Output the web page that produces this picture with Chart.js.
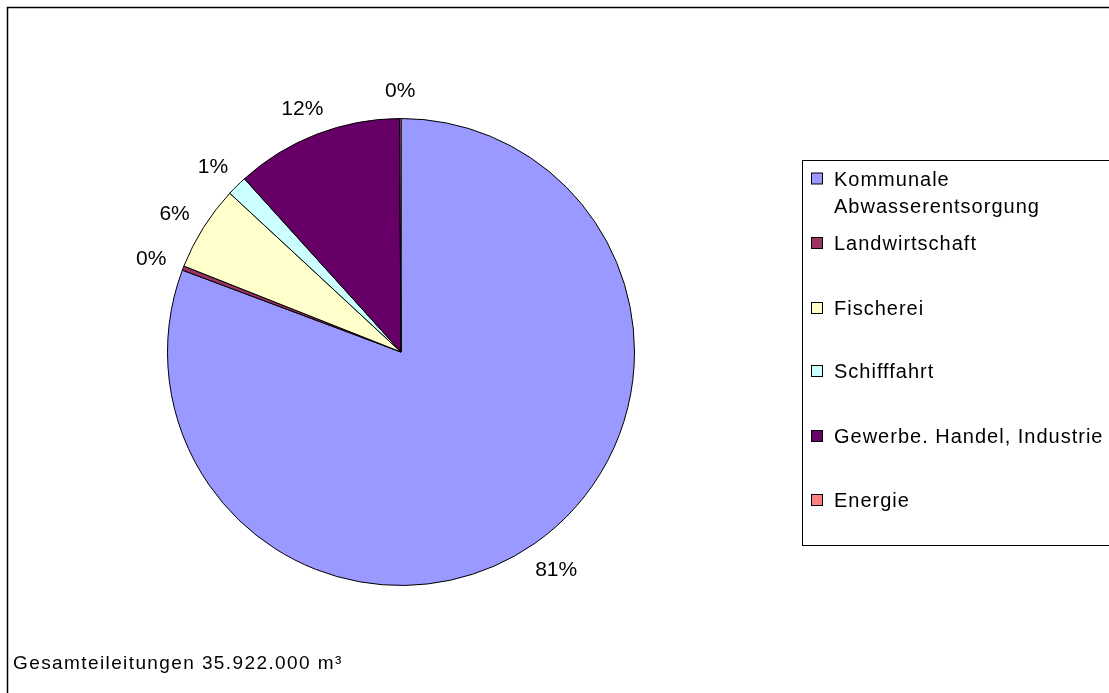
<!DOCTYPE html>
<html>
<head>
<meta charset="utf-8">
<script src="https://cdn.jsdelivr.net/npm/chart.js@4.4.1/dist/chart.umd.min.js"></script>
<style>
html,body{margin:0;padding:0;background:#fff;}
#wrap{position:relative;width:1109px;height:693px;}
</style>
</head>
<body>
<div id="wrap"><canvas id="c" width="1109" height="693"></canvas></div>
<script>
// Data (percent shares)
const categories = ["Kommunale Abwasserentsorgung", "Landwirtschaft", "Fischerei", "Schifffahrt", "Gewerbe. Handel, Industrie", "Energie"];
const legendLines = [["Kommunale", "Abwasserentsorgung"], ["Landwirtschaft"], ["Fischerei"], ["Schifffahrt"], ["Gewerbe. Handel, Industrie"], ["Energie"]];
const shares = [80.7, 0.3, 5.9, 1.4, 11.6, 0.1];
const colors = ["#9999FF", "#993366", "#FFFFCC", "#CCFFFF", "#660066", "#FF8080"];
const footnote = "Gesamteileitungen 35.922.000 m³";

const FONT = '"Liberation Sans", Arial, sans-serif';

const decor = {
  id: 'decor',
  afterDraw(chart) {
    const ctx = chart.ctx;
    ctx.save();
    // outer frame
    ctx.strokeStyle = '#000';
    ctx.lineWidth = 1.5;
    ctx.strokeRect(7.5, 7.5, 1300, 1000);

    // percent labels
    const meta = chart.getDatasetMeta(0);
    const total = shares.reduce((a, b) => a + b, 0);
    ctx.font = '21px ' + FONT;
    ctx.fillStyle = '#000';
    ctx.textAlign = 'center';
    ctx.textBaseline = 'middle';
    meta.data.forEach((arc, i) => {
      const p = arc.getProps(['x', 'y', 'startAngle', 'endAngle', 'outerRadius'], true);
      const mid = (p.startAngle + p.endAngle) / 2;
      const c = Math.cos(mid), s = Math.sin(mid);
      const txt = Math.round(shares[i] / total * 100) + '%';
      const w = ctx.measureText(txt).width, h = 15;
      const r = p.outerRadius + 22;
      const x = p.x + c * r + c * w / 2 * 0.8;
      const y = p.y + s * r + s * h / 2 + 2;
      ctx.fillText(txt, x, y);
    });

    // legend box
    ctx.lineWidth = 1;
    ctx.strokeStyle = '#000';
    ctx.strokeRect(802.5, 160.5, 400, 385);
    const ys = [178.5, 243, 308, 371, 436, 500];
    ctx.font = '20px ' + FONT;
    ctx.textAlign = 'left';
    ctx.textBaseline = 'middle';
    try { ctx.letterSpacing = '1px'; } catch (e) {}
    legendLines.forEach((lines, i) => {
      const y = ys[i];
      ctx.fillStyle = colors[i];
      ctx.fillRect(811.5, y - 5.5, 11, 11);
      ctx.strokeStyle = '#000';
      ctx.strokeRect(811.5, y - 5.5, 11, 11);
      ctx.fillStyle = '#000';
      lines.forEach((ln, j) => ctx.fillText(ln, 834, y + 1.5 + j * 27.5));
    });

    // footnote
    ctx.font = '19px ' + FONT;
    ctx.textBaseline = 'alphabetic';
    try { ctx.letterSpacing = '1.4px'; } catch (e) {}
    ctx.fillText(footnote, 13, 669);
    ctx.restore();
  }
};

new Chart(document.getElementById('c'), {
  type: 'pie',
  data: {
    labels: categories,
    datasets: [{
      data: shares,
      backgroundColor: colors,
      borderColor: '#000',
      borderWidth: 1
    }]
  },
  options: {
    responsive: false,
    animation: false,
    layout: { padding: { left: 167, top: 118, right: 474, bottom: 107 } },
    plugins: { legend: { display: false }, tooltip: { enabled: false }, title: { display: false } }
  },
  plugins: [decor]
});
</script>
</body>
</html>
